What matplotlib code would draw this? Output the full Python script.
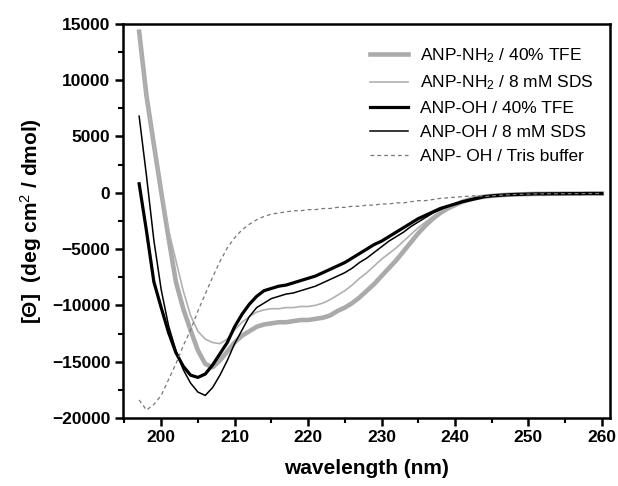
import matplotlib
matplotlib.use("Agg")
import matplotlib.pyplot as plt
from matplotlib.ticker import MultipleLocator

plt.rcParams['font.family'] = ['Liberation Sans', 'DejaVu Sans']
plt.rcParams['mathtext.fontset'] = 'custom'
plt.rcParams['mathtext.rm'] = 'Liberation Sans'
plt.rcParams['mathtext.it'] = 'Liberation Sans'
plt.rcParams['mathtext.bf'] = 'Liberation Sans:bold'

wavelength = list(range(197, 261))

tail = [-350, -280, -230, -190, -160, -140, -120, -100, -100, -90, -90, -80, -80, -80, -70, -70, -70]

nh2_tfe = [14300, 8600, 4300, 100, -4000, -7900, -10300, -12200, -14000, -15200, -15500,
           -14900, -14100, -13300, -12700, -12300, -11900, -11700, -11600, -11500, -11500,
           -11400, -11300, -11300, -11200, -11100, -10900, -10500, -10200, -9800, -9300,
           -8700, -8100, -7400, -6700, -6000, -5200, -4400, -3600, -2900, -2300, -1800,
           -1400, -1100, -800, -600, -450] + tail

nh2_sds = [14000, 8500, 4300, 300, -3300, -6000, -8700, -10900, -12300, -13000, -13300,
           -13400, -13000, -12200, -11500, -11000, -10600, -10400, -10300, -10300, -10200,
           -10200, -10100, -10100, -10000, -9800, -9500, -9100, -8700, -8200, -7600,
           -7100, -6500, -5900, -5400, -4900, -4300, -3700, -3100, -2600, -2100, -1700,
           -1300, -1000, -800, -600, -450] + tail

oh_tfe = [800, -3400, -7900, -10200, -12400, -14200, -15400, -16200, -16400, -16100, -15300,
          -14300, -13300, -11900, -10800, -9900, -9200, -8700, -8500, -8300, -8200,
          -8000, -7800, -7600, -7400, -7100, -6800, -6500, -6200, -5800, -5400,
          -5000, -4600, -4300, -3900, -3500, -3100, -2700, -2300, -2000, -1700, -1400,
          -1200, -1000, -800, -650, -500] + tail

oh_sds = [6800, 1500, -4200, -8600, -11800, -14000, -15700, -16900, -17700, -18000, -17300,
          -16200, -14900, -13400, -12200, -11000, -10200, -9800, -9400, -9200, -9000,
          -8900, -8700, -8500, -8300, -8000, -7700, -7400, -7100, -6700, -6200,
          -5800, -5300, -4800, -4300, -3900, -3500, -3000, -2600, -2200, -1800, -1500,
          -1200, -1000, -800, -600, -450] + tail

oh_tris = [-18400, -19300, -18800, -18000, -16600, -15200, -13600, -12200, -10500, -9000, -7500,
           -6100, -4900, -4000, -3300, -2800, -2400, -2100, -1900, -1800, -1700,
           -1600, -1600, -1500, -1500, -1400, -1400, -1300, -1300, -1200, -1200,
           -1100, -1100, -1000, -1000, -900, -900, -800, -700, -700, -600, -500,
           -450, -400, -350, -300, -250] + tail

labels = ["ANP-NH$_2$ / 40% TFE", "ANP-NH$_2$ / 8 mM SDS", "ANP-OH / 40% TFE",
          "ANP-OH / 8 mM SDS", "ANP- OH / Tris buffer"]

fig = plt.figure(figsize=(6.18, 4.86), dpi=100)
ax = fig.add_axes([0.199, 0.140, 0.788, 0.811])

ax.plot(wavelength, nh2_tfe, color='#aaaaaa', lw=3.3, label=labels[0])
ax.plot(wavelength, nh2_sds, color='#b0b0b0', lw=1.2, label=labels[1])
ax.plot(wavelength, oh_tfe, color='black', lw=2.3, label=labels[2])
ax.plot(wavelength, oh_sds, color='black', lw=1.1, label=labels[3])
ax.plot(wavelength, oh_tris, color='#777777', lw=0.9, ls=(0, (3, 2.5)), label=labels[4])

ax.set_xlim(194.8, 261.1)
ax.set_ylim(-20000, 15000)
ax.xaxis.set_major_locator(MultipleLocator(10))
ax.xaxis.set_minor_locator(MultipleLocator(5))
ax.yaxis.set_major_locator(MultipleLocator(5000))
ax.yaxis.set_minor_locator(MultipleLocator(2500))

for s in ax.spines.values():
    s.set_linewidth(1.8)
ax.tick_params(which='major', direction='out', length=6, width=1.8, labelsize=12.5, pad=3)
ax.tick_params(which='minor', direction='out', length=3.5, width=1.5)
ax.tick_params(top=False, right=False, which='both')
for lab in ax.get_xticklabels() + ax.get_yticklabels():
    lab.set_fontweight('bold')

ax.set_xlabel("wavelength (nm)", fontsize=15, fontweight='bold', labelpad=10)
ax.set_ylabel("[\u0398]  (deg cm$^2$ / dmol)", fontsize=15, fontweight='bold', labelpad=6)

leg = ax.legend(loc='upper right', frameon=False, fontsize=12.5, handlelength=2.2,
                handletextpad=0.7, labelspacing=0.5, borderaxespad=0.4,
                bbox_to_anchor=(0.995, 0.978))

fig.savefig("out.png", dpi=100)
